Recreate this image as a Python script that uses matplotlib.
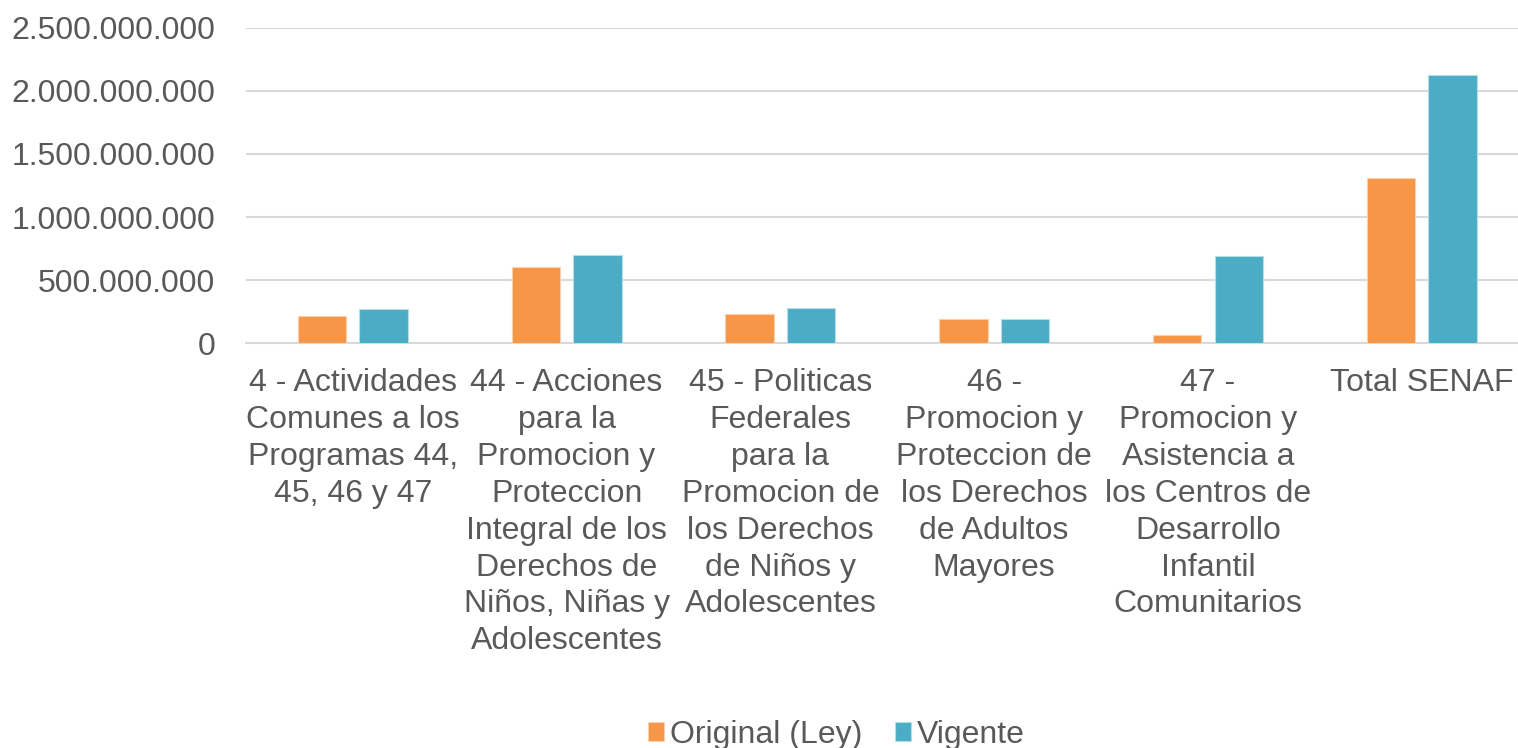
import numpy as np
import matplotlib
matplotlib.use("Agg")
import matplotlib.pyplot as plt
from matplotlib.ticker import FuncFormatter

plt.rcParams['font.family'] = ['Liberation Sans', 'DejaVu Sans']

categorias = [
    "4 - Actividades\nComunes a los\nProgramas 44,\n45, 46 y 47",
    "44 - Acciones\npara la\nPromocion y\nProteccion\nIntegral de los\nDerechos de\nNiños, Niñas y\nAdolescentes",
    "45 - Politicas\nFederales\npara la\nPromocion de\nlos Derechos\nde Niños y\nAdolescentes",
    "46 -\nPromocion y\nProteccion de\nlos Derechos\nde Adultos\nMayores",
    "47 -\nPromocion y\nAsistencia a\nlos Centros de\nDesarrollo\nInfantil\nComunitarios",
    "Total SENAF",
]
original = [211e6, 607e6, 229e6, 190e6, 66e6, 1307e6]
vigente = [269e6, 702e6, 275e6, 190e6, 689e6, 2126e6]

naranja = '#F79646'
azul = '#4BACC6'
gris = '#595959'

fig = plt.figure(figsize=(15.18, 7.48), dpi=100)
# el area de graficos se sale un poco por la derecha (como en el original)
ax = fig.add_axes([0.162, 0.5414, 0.845, 0.4212])

x = np.arange(len(categorias))
w = 0.226
off = 0.144
ax.bar(x - off, original, w, color=naranja, edgecolor='#FBD0AE', linewidth=0.8, label='Original (Ley)', zorder=3)
ax.bar(x + off, vigente, w, color=azul, edgecolor='#B6DEE9', linewidth=0.8, label='Vigente', zorder=3)

ax.set_xlim(-0.5, len(categorias) - 0.5)
ax.set_ylim(0, 2.5e9)
ax.set_yticks(np.arange(0, 2.5e9 + 1, 5e8))
ax.yaxis.set_major_formatter(FuncFormatter(lambda v, p: f"{int(v):,}".replace(",", ".")))
ax.grid(axis='y', color='#D9D9D9', linewidth=1.5, zorder=0)
for s in ['top', 'right', 'left']:
    ax.spines[s].set_visible(False)
ax.spines['bottom'].set_color('#D9D9D9')
ax.spines['bottom'].set_linewidth(1.5)

ax.tick_params(axis='y', length=0, pad=22, labelsize=23, labelcolor=gris)
ax.set_xticks(x)
ax.set_xticklabels(categorias, fontsize=23, color=gris, linespacing=1.3, va='top')
ax.tick_params(axis='x', length=0, pad=18)

fig.legend(loc='lower center', bbox_to_anchor=(0.551, -0.041), ncol=2, frameon=False,
           fontsize=23, labelcolor=gris, handlelength=0.5, handleheight=0.5,
           handletextpad=0.2, columnspacing=1.0)

fig.savefig('out.png', dpi=100)
